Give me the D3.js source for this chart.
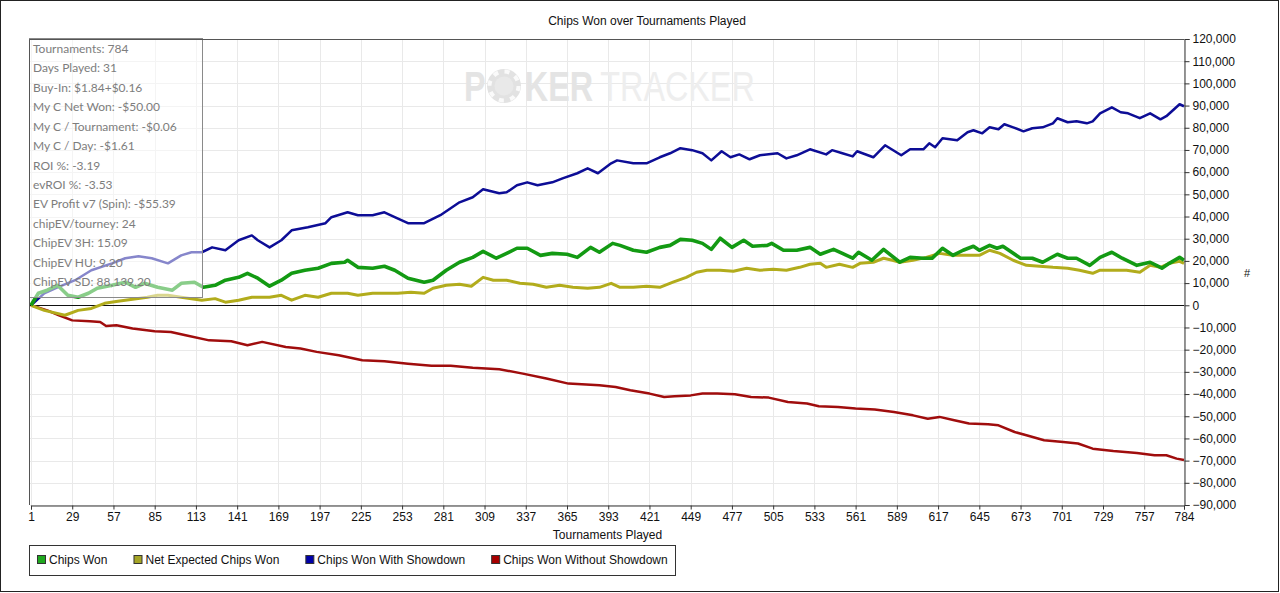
<!DOCTYPE html>
<html>
<head>
<meta charset="utf-8">
<script src="https://cdnjs.cloudflare.com/ajax/libs/d3/7.8.5/d3.min.js"></script>
<style>
  body { margin: 0; background: #fff; }
  svg { display: block; font-family: "Liberation Sans", Arial, sans-serif; }
</style>
</head>
<body>
<div id="chart"></div>
<script>
// Values: [tournament, chips]
var chipsWon = [[1,0],[6,5400],[12,6800],[19,9000],[26,4500],[33,3600],[40,5400],[46,7700],[56,9000],[65,10400],
  [72,8100],[78,9900],[87,8100],[97,6800],[103,9900],[112,10400],[118,8100],[126,9000],[133,11300],[142,12600],
  [148,14400],[155,12200],[163,8600],[171,11300],[178,14400],[187,15800],[196,16700],[205,18900],[214,19400],[216,20300],
  [223,17100],[233,16700],[241,17600],[248,15800],[257,12200],[268,10400],[274,11300],[283,15800],[292,19400],[301,21600],
  [308,24300],[317,21200],[324,23400],[331,25700],[338,25700],[347,22500],[355,23400],[365,23000],[372,21600],[381,26100],
  [387,23900],[396,27900],[401,27000],[410,24800],[419,23900],[428,26100],[435,27000],[442,29700],[450,29300],[457,27900],
  [463,25200],[469,30200],[477,26100],[485,29300],[491,26600],[501,27000],[504,27900],[512,24800],[521,24800],[530,26100],
  [537,23000],[546,25200],[552,23400],[559,21200],[563,23900],[572,20300],[580,25200],[591,19400],[598,21600],[607,21200],
  [613,21200],[620,25700],[627,22500],[634,24800],[641,26600],[645,24800],[652,27000],[657,25700],[661,26600],[673,21200],
  [681,21200],[688,19400],[698,23000],[705,21200],[711,21200],[720,18000],[727,21600],[735,23900],[742,21200],[752,18000],
  [761,19400],[769,16700],[774,18900],[781,21600],[784,20300]];

var netExpected = [[1,0],[10,-2300],[24,-4500],[33,-2300],[42,-1400],[51,900],[60,1800],[70,2700],[80,3600],[87,4500],
  [94,4500],[103,3600],[117,2300],[126,3000],[133,1400],[142,2300],[151,3600],[163,3600],[171,4500],[178,2300],
  [187,4500],[196,3600],[205,5400],[216,5400],[223,4500],[233,5400],[241,5400],[250,5400],[259,5900],[268,5400],
  [274,7700],[283,9000],[292,9500],[300,8600],[308,12600],[315,11300],[324,11300],[333,9900],[342,9500],[351,8100],
  [360,9000],[369,8100],[379,7700],[387,8100],[395,9900],[401,8100],[410,8100],[419,8600],[428,8100],[437,10400],
  [446,12600],[453,14900],[460,15800],[469,15800],[478,15300],[487,16700],[496,15800],[505,16200],[514,15800],[523,17100],
  [530,18500],[537,18900],[541,17100],[550,18500],[559,17100],[564,18900],[573,19400],[580,21200],[586,20300],[591,19400],
  [600,20300],[609,21600],[618,23400],[627,22500],[637,22500],[645,22500],[652,24800],[659,23400],[668,20300],[677,18000],
  [686,17600],[695,17100],[705,16700],[713,15800],[722,14400],[727,15800],[736,15800],[745,15800],[754,14900],[761,18000],
  [768,17100],[774,18900],[781,19800],[784,18900]];

var withShowdown = [[1,0],[10,5400],[19,8100],[31,11300],[42,15800],[56,18900],[65,21200],[74,22100],[83,21200],[94,18900],
  [103,22500],[110,23900],[117,23900],[124,26100],[133,24800],[142,29300],[151,31500],[155,29300],[163,26100],[171,29300],
  [178,33800],[189,35200],[201,37000],[205,39700],[216,41900],[223,40600],[233,40600],[241,41900],[248,39700],[257,37000],
  [268,37000],[279,40600],[292,46400],[301,48700],[308,52300],[319,50500],[324,50900],[331,54100],[338,55400],[345,54100],
  [355,55400],[362,57200],[372,59500],[379,61700],[386,59500],[395,64000],[399,65300],[410,64000],[419,64000],[428,66700],
  [435,68500],[442,70800],[450,69900],[457,68500],[463,65300],[470,69400],[476,66700],[482,68000],[489,65800],[496,67600],
  [508,68500],[514,66200],[521,67600],[530,70300],[541,68000],[545,69900],[552,68500],[559,67100],[562,69400],[573,66700],
  [581,72100],[592,67600],[598,70300],[607,70300],[611,73000],[615,71200],[620,75300],[630,74400],[637,78000],[641,78900],
  [647,77500],[652,80200],[658,79300],[662,81600],[668,80200],[675,78400],[681,79800],[688,80200],[695,82000],[698,84300],
  [705,82500],[711,82900],[718,82000],[722,82900],[727,86500],[735,89200],[741,87000],[746,86500],[754,84300],[761,86500],
  [768,83800],[772,85200],[781,90600],[784,89700]];

var withoutShowdown = [[1,0],[12,-2300],[20,-4500],[29,-6800],[41,-7200],[48,-7500],[52,-9300],[59,-9000],[70,-10500],[85,-11700],
  [96,-12000],[106,-13500],[122,-15800],[137,-16200],[148,-18000],[158,-16500],[174,-18800],[184,-19500],[195,-21000],[210,-22500],
  [226,-24800],[241,-25200],[257,-26300],[273,-27300],[286,-27300],[301,-28200],[319,-28800],[335,-30800],[351,-33000],[366,-35300],
  [387,-36000],[398,-36800],[408,-38300],[421,-39800],[431,-41300],[438,-41000],[449,-40600],[457,-39800],[467,-39800],[479,-40100],
  [490,-41300],[502,-41600],[515,-43600],[528,-44300],[536,-45500],[549,-45800],[561,-46500],[574,-47000],[587,-48100],[600,-49600],
  [610,-51100],[618,-50300],[628,-51800],[638,-53300],[651,-53600],[658,-54100],[669,-57100],[677,-58600],[689,-60800],[702,-61600],
  [712,-62300],[722,-64600],[736,-65700],[752,-66600],[764,-67600],[772,-67600],[779,-69100],[784,-69700]];

var seriesNames = ["Chips Won", "Net Expected Chips Won", "Chips Won With Showdown", "Chips Won Without Showdown"];
var xTicks = [1, 29, 57, 85, 113, 141, 169, 197, 225, 253, 281, 309, 337, 365, 393, 421, 449, 477, 505, 533, 561, 589, 617, 645, 673, 701, 729, 757, 784];
var yTicks = [-90000, -80000, -70000, -60000, -50000, -40000, -30000, -20000, -10000, 0, 10000, 20000, 30000, 40000, 50000, 60000, 70000, 80000, 90000, 100000, 110000, 120000];
var statLines = ["Tournaments: 784", "Days Played: 31", "Buy-In: $1.84+$0.16", "My C Net Won: -$50.00",
  "My C / Tournament: -$0.06", "My C / Day: -$1.61", "ROI %: -3.19", "evROI %: -3.53",
  "EV Profit v7 (Spin): -$55.39", "chipEV/tourney: 24", "ChipEV 3H: 15.09", "ChipEV HU: 9.20", "ChipEV SD: 88,139.20"];

// Layout
var svgWidth = 1280;
var svgHeight = 593;
var plot = { left: 31, right: 1184, top: 39, bottom: 505 };

var lineColors = ["#139a13", "#b2ac1c", "#0d0d96", "#a00d0d"];
var lineWidths = [3.6, 3, 2.5, 2.5];
var swatchColors = ["#1fa81f", "#a5a526", "#0000a8", "#a80000"];

var svg = d3.select("#chart")
  .append("svg")
  .attr("width", svgWidth)
  .attr("height", svgHeight);

var xScale = d3.scaleLinear().domain([1, 784]).range([plot.left, plot.right]);
var yScale = d3.scaleLinear().domain([-90000, 120000]).range([plot.bottom, plot.top]);

// Outer frame
svg.append("rect")
  .attr("x", 0.5).attr("y", 0.5)
  .attr("width", svgWidth - 2).attr("height", svgHeight - 2)
  .attr("fill", "#fff").attr("stroke", "#222");

// Title
svg.append("text")
  .attr("x", 647).attr("y", 25)
  .attr("text-anchor", "middle")
  .attr("font-size", "12px")
  .attr("fill", "#111")
  .text("Chips Won over Tournaments Played");

// Gridlines
var grid = svg.append("g").attr("stroke", "#e9e9e9").attr("stroke-width", 1);
grid.selectAll(".vg").data(xTicks).enter().append("line")
  .attr("x1", d => Math.round(xScale(d)) + 0.5).attr("x2", d => Math.round(xScale(d)) + 0.5)
  .attr("y1", plot.top).attr("y2", plot.bottom);
grid.selectAll(".hg").data(yTicks).enter().append("line")
  .attr("x1", plot.left - 1).attr("x2", plot.right)
  .attr("y1", d => Math.round(yScale(d)) + 0.5).attr("y2", d => Math.round(yScale(d)) + 0.5);

// Watermark: one condensed text, chip drawn in place of the "O"
var wm = svg.append("g");
var wmText = wm.append("text")
  .attr("transform", "translate(464,101) scale(0.77,1)")
  .attr("font-size", "42px");
wmText.append("tspan").attr("x", 0).attr("font-weight", "bold").attr("fill", "#e4e4e4").text("P");
wmText.append("tspan").attr("x", 79).attr("font-weight", "bold").attr("fill", "#e4e4e4").text("KER");
wmText.append("tspan").attr("x", 177).attr("fill", "#eeeeee").text("TRACKER");
wm.append("circle").attr("cx", 504).attr("cy", 86).attr("r", 17).attr("fill", "#e2e2e2");
wm.append("circle").attr("cx", 504).attr("cy", 86).attr("r", 14.5)
  .attr("fill", "none").attr("stroke", "#fafafa").attr("stroke-width", 4)
  .attr("stroke-dasharray", "5 6.4");
wm.append("circle").attr("cx", 504).attr("cy", 86).attr("r", 9.5).attr("fill", "#e9e9e9");

// Zero line
svg.append("line")
  .attr("x1", plot.left - 1).attr("x2", plot.right)
  .attr("y1", Math.round(yScale(0)) + 0.5).attr("y2", Math.round(yScale(0)) + 0.5)
  .attr("stroke", "#111").attr("stroke-width", 1);

// Series
var line = d3.line()
  .x(d => xScale(d[0]))
  .y(d => yScale(d[1]));

var drawOrder = [3, 2, 1, 0];
var allSeries = [chipsWon, netExpected, withShowdown, withoutShowdown];
drawOrder.forEach(function(i) {
  svg.append("path")
    .datum(allSeries[i])
    .attr("d", line)
    .attr("fill", "none")
    .attr("stroke", lineColors[i])
    .attr("stroke-width", lineWidths[i])
    .attr("stroke-linejoin", "round");
});

// Stats box (semi-transparent over the lines)
var statsGroup = svg.append("g");
statsGroup.append("rect")
  .attr("x", 29.5).attr("y", 38.5)
  .attr("width", 173).attr("height", 259)
  .attr("fill", "#fff").attr("fill-opacity", 0.5)
  .attr("stroke", "#8a8a8a");
statsGroup.selectAll("text")
  .data(statLines)
  .enter()
  .append("text")
  .attr("x", 33)
  .attr("y", (d, i) => 53 + i * 19.42)
  .attr("font-family", "Lato, 'Noto Sans', sans-serif")
  .attr("font-size", "12px")
  .attr("fill", "#7d7d7d")
  .text(d => d);

// Plot frame (top and left)
svg.append("path")
  .attr("d", `M${plot.right},${plot.top + 0.5}H${plot.left - 1.5}V${plot.bottom}`)
  .attr("fill", "none").attr("stroke", "#555");

// Axes
var bottomAxis = d3.axisBottom(xScale)
  .tickValues(xTicks)
  .tickSize(4)
  .tickPadding(3)
  .tickFormat(d3.format("d"));
var rightAxis = d3.axisRight(yScale)
  .tickValues(yTicks)
  .tickSize(5)
  .tickPadding(3)
  .tickFormat(d3.format(","));

var xAxis = svg.append("g")
  .attr("transform", `translate(0, ${plot.bottom + 0.5})`)
  .call(bottomAxis);
var yAxis = svg.append("g")
  .attr("transform", `translate(${plot.right + 0.5}, 0)`)
  .call(rightAxis);

[xAxis, yAxis].forEach(function(ax) {
  ax.select(".domain").attr("stroke", "#333");
  ax.selectAll(".tick line").attr("stroke", "#333");
  ax.selectAll(".tick text")
    .attr("fill", "#111")
    .attr("font-size", "12px")
    .attr("font-family", "'Liberation Sans', Arial, sans-serif");
});

// Axis titles
svg.append("text")
  .attr("x", (plot.left + plot.right) / 2).attr("y", 539)
  .attr("text-anchor", "middle")
  .attr("font-size", "12px").attr("fill", "#111")
  .text("Tournaments Played");
svg.append("text")
  .attr("x", 1247).attr("y", 277)
  .attr("text-anchor", "middle")
  .attr("font-size", "11px").attr("fill", "#111")
  .text("#");

// Legend
var legend = svg.append("g");
legend.append("rect")
  .attr("x", 29.5).attr("y", 545.5)
  .attr("width", 646).attr("height", 30)
  .attr("fill", "#fff").attr("stroke", "#333");
var lx = 37;
seriesNames.forEach(function(name, i) {
  legend.append("rect")
    .attr("x", lx + 0.5).attr("y", 555.5)
    .attr("width", 8).attr("height", 8)
    .attr("fill", swatchColors[i]).attr("stroke", "#333");
  var t = legend.append("text")
    .attr("x", lx + 12).attr("y", 564)
    .attr("font-size", "12px").attr("fill", "#111")
    .text(name);
  lx += 12 + t.node().getComputedTextLength() + 26;
});
</script>
</body>
</html>
